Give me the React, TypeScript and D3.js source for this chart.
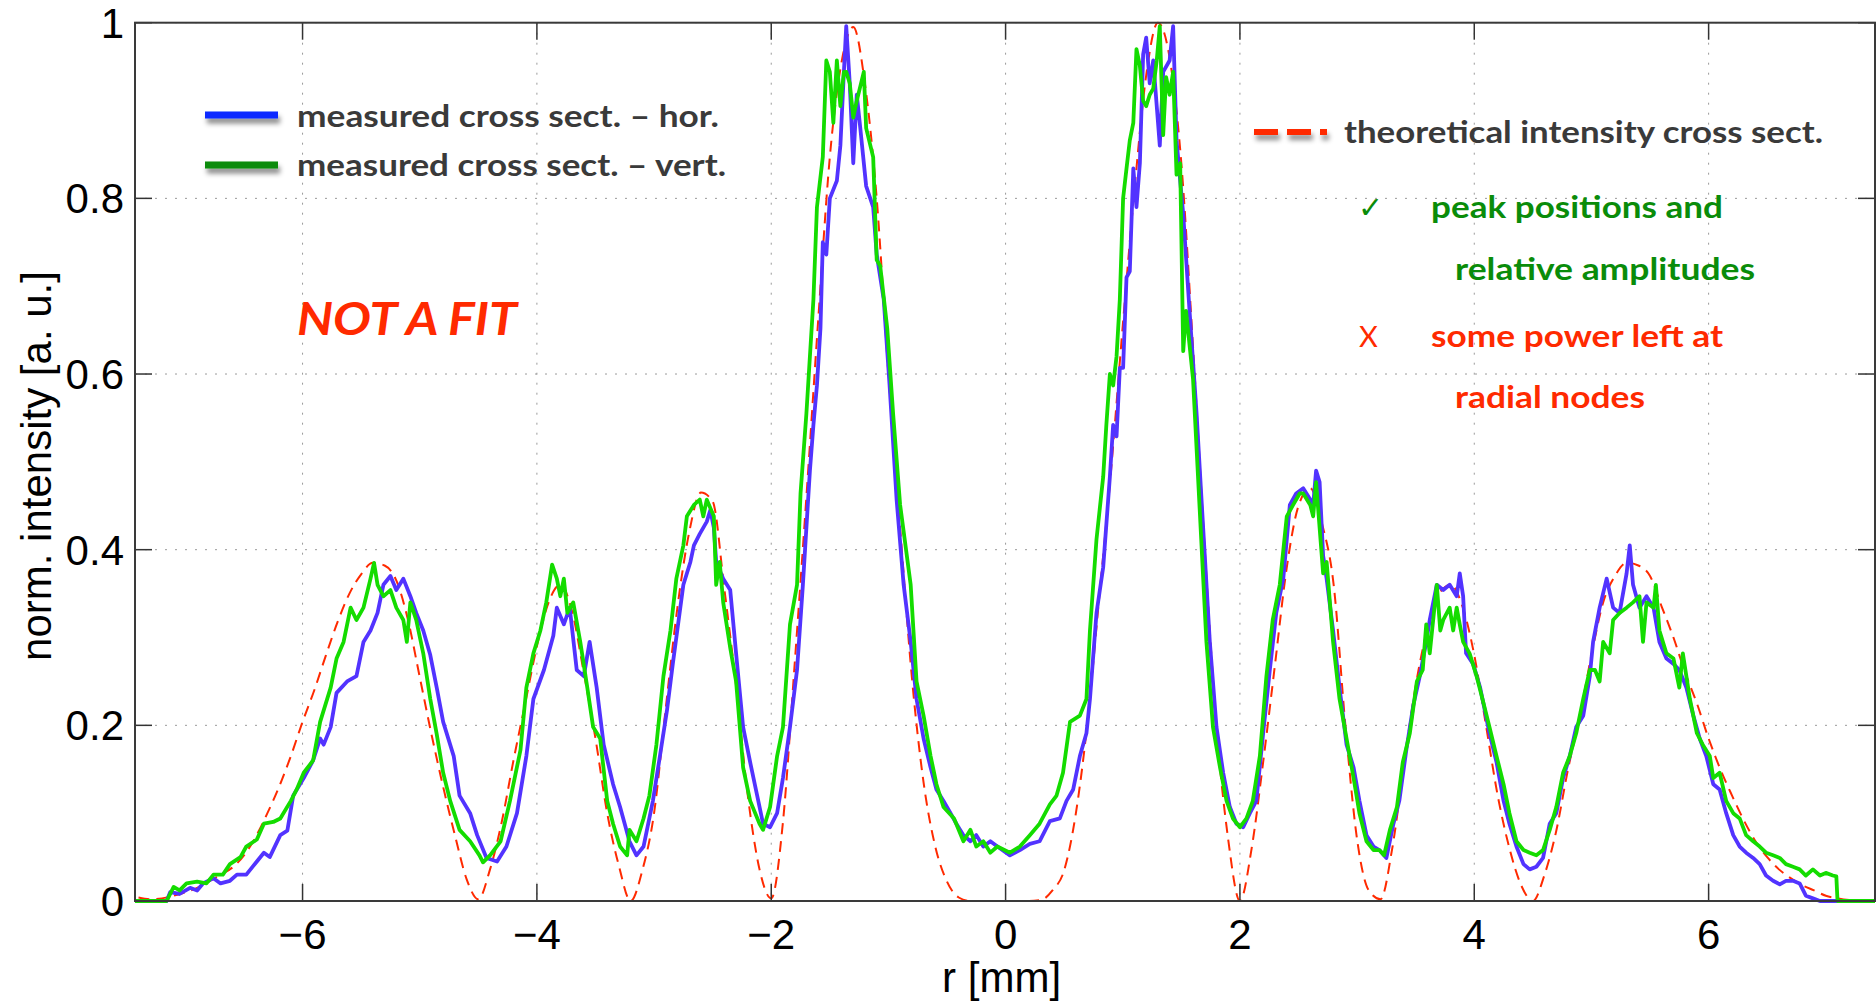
import React from 'react';
import * as d3 from 'd3';

const W = 1876;
const H = 1002;

const xTicks = [-6, -4, -2, 0, 2, 4, 6];
const xTickLabels = ['\u22126', '\u22124', '\u22122', '0', '2', '4', '6'];
const yTicks = [0, 0.2, 0.4, 0.6, 0.8, 1];
const yTickLabels = ['0', '0.2', '0.4', '0.6', '0.8', '1'];

// theoretical intensity cross section (red dashed)
const theoryR = [
  -7.4, -7.3, -7.2, -7.1, -7.0, -6.9, -6.8, -6.7, -6.6, -6.5, -6.4, -6.3, -6.2, -6.1, -6.0,
  -5.9, -5.8, -5.7, -5.6, -5.5, -5.4, -5.3, -5.2, -5.1, -5.0, -4.9, -4.8, -4.7, -4.6, -4.5,
  -4.4, -4.3, -4.2, -4.1, -4.0, -3.9, -3.8, -3.7, -3.6, -3.5, -3.4, -3.3, -3.2, -3.1, -3.0,
  -2.9, -2.8, -2.7, -2.6, -2.5, -2.4, -2.3, -2.2, -2.1, -2.0, -1.9, -1.8, -1.7, -1.6, -1.5,
  -1.4, -1.3, -1.2, -1.1, -1.0, -0.9, -0.8, -0.7, -0.6, -0.5, -0.4, -0.3, -0.2, -0.1, 0,
  0.1, 0.2, 0.3, 0.4, 0.5, 0.6, 0.7, 0.8, 0.9, 1.0, 1.1, 1.2, 1.3, 1.4, 1.5,
  1.6, 1.7, 1.8, 1.9, 2.0, 2.1, 2.2, 2.3, 2.4, 2.5, 2.6, 2.7, 2.8, 2.9, 3.0,
  3.1, 3.2, 3.3, 3.4, 3.5, 3.6, 3.7, 3.8, 3.9, 4.0, 4.1, 4.2, 4.3, 4.4, 4.5,
  4.6, 4.7, 4.8, 4.9, 5.0, 5.1, 5.2, 5.3, 5.4, 5.5, 5.6, 5.7, 5.8, 5.9, 6.0,
  6.1, 6.2, 6.3, 6.4, 6.5, 6.6, 6.7, 6.8, 6.9, 7.0, 7.1, 7.2, 7.3, 7.4,
];
const theoryI = [
  0.004, 0.002, 0.003, 0.006, 0.01, 0.015, 0.022, 0.03, 0.038, 0.052, 0.073, 0.1, 0.13, 0.165, 0.204,
  0.24, 0.28, 0.318, 0.35, 0.372, 0.385, 0.382, 0.365, 0.32, 0.255, 0.19, 0.13, 0.075, 0.025, 0.002,
  0.036, 0.09, 0.16, 0.225, 0.29, 0.34, 0.36, 0.33, 0.26, 0.185, 0.1, 0.04, 0.0, 0.035, 0.1,
  0.22, 0.335, 0.42, 0.465, 0.455, 0.355, 0.245, 0.12, 0.036, 0.003, 0.09, 0.27, 0.46, 0.66, 0.847,
  0.955, 0.995, 0.93, 0.8, 0.6, 0.425, 0.255, 0.135, 0.062, 0.022, 0.004, 0, 0, 0, 0,
  0, 0, 0.001, 0.012, 0.035, 0.1, 0.205, 0.347, 0.49, 0.655, 0.81, 0.94, 1.0, 0.96, 0.84,
  0.63, 0.4, 0.198, 0.07, 0.0, 0.06, 0.16, 0.27, 0.38, 0.45, 0.47, 0.43, 0.36, 0.2, 0.07,
  0.012, 0.002, 0.06, 0.155, 0.245, 0.31, 0.35, 0.36, 0.335, 0.28, 0.2, 0.12, 0.06, 0.018, 0.0,
  0.03, 0.08, 0.15, 0.21, 0.28, 0.34, 0.37, 0.385, 0.382, 0.37, 0.335, 0.3, 0.26, 0.225, 0.185,
  0.15, 0.12, 0.092, 0.068, 0.05, 0.036, 0.026, 0.018, 0.012, 0.006, 0.003, 0.001, 0, 0,
];

// measured cross section - horizontal (blue)
const horR = [
  -7.43, -7.16, -7.13, -7.05, -6.96, -6.9, -6.85, -6.76, -6.7, -6.62, -6.56, -6.48, -6.39, -6.33, -6.28,
  -6.19, -6.13, -6.08, -5.99, -5.91, -5.85, -5.82, -5.76, -5.71, -5.62, -5.54, -5.48, -5.42, -5.36, -5.31,
  -5.25, -5.2, -5.14, -5.08, -5.03, -4.97, -4.91, -4.855, -4.8, -4.71, -4.66, -4.57, -4.51, -4.43, -4.34,
  -4.26, -4.17, -4.09, -4.03, -3.94, -3.86, -3.83, -3.77, -3.72, -3.66, -3.6, -3.55, -3.49, -3.43, -3.35,
  -3.29, -3.21, -3.15, -3.09, -3.01, -2.95, -2.89, -2.84, -2.75, -2.69, -2.66, -2.61, -2.55, -2.52, -2.49,
  -2.47, -2.41, -2.35, -2.3, -2.24, -2.18, -2.12, -2.07, -2.01, -1.95, -1.9, -1.84, -1.78, -1.73, -1.67,
  -1.64, -1.61, -1.58, -1.56, -1.53, -1.5, -1.44, -1.41, -1.38, -1.36, -1.33, -1.3, -1.27, -1.24, -1.19,
  -1.13, -1.1, -1.04, -0.99, -0.93, -0.87, -0.81, -0.76, -0.7, -0.64, -0.59, -0.53, -0.47, -0.42, -0.36,
  -0.3, -0.25, -0.19, -0.13, -0.07, 0.037, 0.122, 0.207, 0.29, 0.378, 0.463, 0.52, 0.577, 0.634, 0.69,
  0.72, 0.776, 0.833, 0.89, 0.918, 0.947, 0.975, 1.003, 1.032, 1.06, 1.09, 1.117, 1.146, 1.174, 1.2,
  1.23, 1.26, 1.316, 1.345, 1.4, 1.43, 1.459, 1.516, 1.57, 1.63, 1.686, 1.743, 1.8, 1.857, 1.914,
  1.97, 2.028, 2.085, 2.14, 2.198, 2.255, 2.31, 2.37, 2.426, 2.48, 2.54, 2.6, 2.625, 2.65, 2.68,
  2.71, 2.74, 2.795, 2.85, 2.91, 2.97, 3.02, 3.08, 3.14, 3.19, 3.25, 3.31, 3.36, 3.42, 3.48,
  3.535, 3.59, 3.62, 3.68, 3.735, 3.79, 3.85, 3.876, 3.905, 3.93, 3.99, 4.05, 4.13, 4.19, 4.25,
  4.3, 4.36, 4.42, 4.473, 4.53, 4.587, 4.644, 4.7, 4.758, 4.815, 4.87, 4.93, 4.986, 5.014, 5.07,
  5.13, 5.185, 5.24, 5.3, 5.327, 5.355, 5.41, 5.47, 5.53, 5.58, 5.64, 5.7, 5.75, 5.81, 5.87,
  5.924, 5.98, 6.04, 6.094, 6.15, 6.21, 6.265, 6.32, 6.38, 6.436, 6.49, 6.55, 6.607, 6.66, 6.72,
  6.777, 6.83, 6.89, 6.95, 7.42,
];
const horI = [
  0, 0, 0.01, 0.008, 0.015, 0.012, 0.02, 0.026, 0.02, 0.023, 0.03, 0.03, 0.045, 0.055, 0.05,
  0.075, 0.08, 0.12, 0.14, 0.16, 0.185, 0.178, 0.198, 0.237, 0.25, 0.256, 0.295, 0.308, 0.328, 0.36,
  0.37, 0.354, 0.367, 0.347, 0.328, 0.308, 0.28, 0.243, 0.204, 0.165, 0.12, 0.1, 0.075, 0.049, 0.045,
  0.062, 0.1, 0.165, 0.23, 0.263, 0.302, 0.334, 0.315, 0.334, 0.263, 0.256, 0.295, 0.243, 0.178, 0.133,
  0.107, 0.068, 0.052, 0.062, 0.114, 0.165, 0.217, 0.27, 0.36, 0.386, 0.405, 0.418, 0.432, 0.445, 0.425,
  0.386, 0.367, 0.354, 0.282, 0.198, 0.158, 0.12, 0.088, 0.084, 0.1, 0.14, 0.198, 0.263, 0.36, 0.49,
  0.542, 0.587, 0.652, 0.75, 0.736, 0.8, 0.82, 0.86, 0.944, 0.996, 0.931, 0.84, 0.918, 0.88, 0.814,
  0.79, 0.736, 0.685, 0.587, 0.457, 0.36, 0.295, 0.23, 0.185, 0.152, 0.127, 0.114, 0.1, 0.088, 0.075,
  0.068, 0.075, 0.062, 0.068, 0.062, 0.052, 0.058, 0.065, 0.068, 0.091, 0.094, 0.114, 0.127, 0.165, 0.191,
  0.23, 0.328, 0.38, 0.483, 0.542, 0.529, 0.607, 0.607, 0.71, 0.717, 0.834, 0.79, 0.84, 0.964, 0.983,
  0.931, 0.957, 0.86, 0.944, 0.957, 0.996, 0.866, 0.782, 0.672, 0.555, 0.425, 0.295, 0.198, 0.146, 0.107,
  0.088, 0.084, 0.1, 0.114, 0.191, 0.263, 0.328, 0.367, 0.451, 0.464, 0.47, 0.457, 0.451, 0.49, 0.477,
  0.393, 0.367, 0.308, 0.243, 0.178, 0.152, 0.114, 0.075, 0.062, 0.058, 0.049, 0.088, 0.114, 0.172, 0.223,
  0.256, 0.295, 0.32, 0.36, 0.354, 0.36, 0.347, 0.373, 0.347, 0.282, 0.27, 0.243, 0.191, 0.158, 0.114,
  0.088, 0.062, 0.042, 0.036, 0.039, 0.049, 0.088, 0.1, 0.14, 0.165, 0.198, 0.211, 0.256, 0.295, 0.334,
  0.367, 0.334, 0.328, 0.373, 0.405, 0.36, 0.334, 0.347, 0.334, 0.295, 0.276, 0.27, 0.263, 0.243, 0.211,
  0.185, 0.165, 0.133, 0.127, 0.1, 0.075, 0.062, 0.055, 0.049, 0.042, 0.029, 0.023, 0.019, 0.023, 0.023,
  0.02, 0.006, 0.003, 0, 0,
];

// measured cross section - vertical (green)
const vertR = [
  -7.43, -7.16, -7.1, -7.05, -6.99, -6.9, -6.82, -6.76, -6.68, -6.62, -6.53, -6.48, -6.39, -6.33, -6.25,
  -6.19, -6.1, -6.05, -5.99, -5.91, -5.85, -5.76, -5.71, -5.65, -5.59, -5.54, -5.48, -5.42, -5.39, -5.36,
  -5.31, -5.25, -5.2, -5.14, -5.11, -5.08, -5.03, -4.97, -4.91, -4.855, -4.8, -4.74, -4.66, -4.57, -4.49,
  -4.46, -4.4, -4.31, -4.23, -4.14, -4.09, -4.03, -3.97, -3.92, -3.87, -3.83, -3.8, -3.77, -3.74, -3.69,
  -3.63, -3.57, -3.52, -3.46, -3.4, -3.35, -3.29, -3.23, -3.21, -3.15, -3.09, -3.04, -2.98, -2.92, -2.86,
  -2.81, -2.75, -2.72, -2.66, -2.61, -2.58, -2.55, -2.49, -2.47, -2.44, -2.41, -2.35, -2.3, -2.24, -2.18,
  -2.1, -2.07, -2.01, -1.95, -1.9, -1.84, -1.78, -1.75, -1.7, -1.67, -1.64, -1.61, -1.56, -1.53, -1.5,
  -1.47, -1.44, -1.41, -1.38, -1.36, -1.33, -1.3, -1.27, -1.21, -1.19, -1.13, -1.1, -1.07, -1.01, -0.96,
  -0.9, -0.81, -0.76, -0.7, -0.64, -0.59, -0.53, -0.44, -0.36, -0.3, -0.25, -0.19, -0.13, -0.07, 0.037,
  0.122, 0.207, 0.29, 0.378, 0.435, 0.49, 0.55, 0.634, 0.69, 0.72, 0.776, 0.833, 0.86, 0.89, 0.918,
  0.947, 0.975, 1.003, 1.032, 1.06, 1.09, 1.117, 1.146, 1.174, 1.2, 1.23, 1.26, 1.29, 1.316, 1.345,
  1.37, 1.4, 1.43, 1.459, 1.49, 1.516, 1.54, 1.6, 1.657, 1.714, 1.77, 1.83, 1.886, 1.94, 2.0,
  2.056, 2.11, 2.17, 2.226, 2.28, 2.34, 2.4, 2.454, 2.51, 2.54, 2.6, 2.625, 2.65, 2.71, 2.74,
  2.795, 2.85, 2.91, 2.97, 3.02, 3.08, 3.14, 3.19, 3.23, 3.28, 3.34, 3.39, 3.45, 3.51, 3.56,
  3.59, 3.62, 3.68, 3.71, 3.735, 3.79, 3.82, 3.85, 3.876, 3.905, 3.96, 4.02, 4.07, 4.13, 4.19,
  4.25, 4.3, 4.36, 4.42, 4.473, 4.53, 4.587, 4.644, 4.7, 4.758, 4.815, 4.87, 4.93, 4.986, 5.03,
  5.07, 5.1, 5.156, 5.185, 5.24, 5.3, 5.355, 5.41, 5.44, 5.47, 5.53, 5.55, 5.58, 5.64, 5.7,
  5.75, 5.78, 5.84, 5.9, 5.95, 6.01, 6.04, 6.094, 6.15, 6.21, 6.265, 6.32, 6.38, 6.436, 6.49,
  6.55, 6.607, 6.66, 6.72, 6.777, 6.83, 6.89, 6.95, 7.0, 7.06, 7.09, 7.1, 7.42,
];
const vertI = [
  0, 0, 0.016, 0.012, 0.02, 0.022, 0.02, 0.03, 0.03, 0.042, 0.05, 0.062, 0.07, 0.088, 0.09,
  0.094, 0.114, 0.127, 0.146, 0.16, 0.204, 0.243, 0.276, 0.295, 0.334, 0.32, 0.334, 0.367, 0.385, 0.36,
  0.347, 0.354, 0.334, 0.32, 0.295, 0.34, 0.32, 0.282, 0.23, 0.19, 0.146, 0.114, 0.081, 0.068, 0.052,
  0.044, 0.052, 0.068, 0.114, 0.172, 0.243, 0.282, 0.308, 0.34, 0.383, 0.367, 0.347, 0.367, 0.328, 0.34,
  0.295, 0.243, 0.198, 0.185, 0.114, 0.088, 0.062, 0.052, 0.081, 0.068, 0.094, 0.12, 0.178, 0.256, 0.308,
  0.367, 0.405, 0.438, 0.451, 0.457, 0.438, 0.457, 0.438, 0.36, 0.386, 0.34, 0.288, 0.25, 0.152, 0.114,
  0.088, 0.081, 0.107, 0.165, 0.198, 0.315, 0.36, 0.464, 0.555, 0.62, 0.685, 0.79, 0.847, 0.957, 0.944,
  0.886, 0.957, 0.905, 0.944, 0.944, 0.931, 0.892, 0.911, 0.944, 0.88, 0.847, 0.73, 0.723, 0.652, 0.555,
  0.451, 0.36, 0.25, 0.211, 0.165, 0.133, 0.107, 0.094, 0.068, 0.081, 0.062, 0.068, 0.055, 0.062, 0.055,
  0.062, 0.075, 0.088, 0.11, 0.12, 0.146, 0.204, 0.211, 0.23, 0.308, 0.412, 0.483, 0.542, 0.6, 0.587,
  0.62, 0.685, 0.8, 0.834, 0.866, 0.886, 0.97, 0.951, 0.911, 0.905, 0.918, 0.925, 0.957, 0.996, 0.872,
  0.938, 0.918, 0.944, 0.827, 0.84, 0.626, 0.672, 0.594, 0.445, 0.295, 0.198, 0.152, 0.114, 0.094, 0.084,
  0.094, 0.114, 0.165, 0.256, 0.32, 0.36, 0.438, 0.451, 0.464, 0.464, 0.451, 0.438, 0.477, 0.373, 0.386,
  0.295, 0.23, 0.185, 0.14, 0.1, 0.068, 0.058, 0.058, 0.052, 0.081, 0.107, 0.158, 0.191, 0.25, 0.263,
  0.315, 0.282, 0.36, 0.308, 0.32, 0.334, 0.308, 0.334, 0.315, 0.295, 0.282, 0.256, 0.23, 0.198, 0.165,
  0.133, 0.1, 0.068, 0.058, 0.055, 0.052, 0.058, 0.081, 0.107, 0.146, 0.165, 0.191, 0.23, 0.263, 0.263,
  0.25, 0.295, 0.282, 0.32, 0.328, 0.334, 0.34, 0.347, 0.295, 0.34, 0.334, 0.36, 0.308, 0.282, 0.276,
  0.243, 0.282, 0.23, 0.191, 0.178, 0.165, 0.14, 0.146, 0.114, 0.1, 0.094, 0.075, 0.068, 0.062, 0.055,
  0.052, 0.049, 0.042, 0.039, 0.036, 0.029, 0.036, 0.029, 0.032, 0.029, 0.028, 0, 0,
];

const zip = (rs: number[], vs: number[]) => rs.map((r, i) => [r, vs[i]] as [number, number]);

export default function App() {
  const left = 135, right = 1875, top = 22.7, bottom = 901;
  const x = d3.scaleLinear().domain([-7.43, 7.42]).range([left, right]);
  const y = d3.scaleLinear().domain([0, 1]).range([bottom, top]);

  const lineLin = d3.line<[number, number]>().x(d => x(d[0])).y(d => y(d[1])).curve(d3.curveLinear);
  const lineSmooth = d3.line<[number, number]>().x(d => x(d[0])).y(d => y(d[1])).curve(d3.curveMonotoneX);

  const theoryPath = lineSmooth(zip(theoryR, theoryI)) || '';
  const horPath = lineLin(zip(horR, horI)) || '';
  const vertPath = lineLin(zip(vertR, vertI)) || '';

  const tickLen = 17;
  const axisFont = '"Liberation Sans", Arial, Helvetica, sans-serif';
  const noteFont = 'Lato, "Open Sans", sans-serif';

  return (
    <svg width={W} height={H} viewBox={`0 0 ${W} ${H}`}
      style={{ position: 'absolute', left: 0, top: 0, background: '#fff' }}>
      <defs>
        <clipPath id="plotClip">
          <rect x={left} y={top - 4} width={right - left} height={bottom - top + 8} />
        </clipPath>
        <filter id="shadow" x="-20%" y="-100%" width="140%" height="400%">
          <feDropShadow dx="2" dy="5" stdDeviation="2.5" floodColor="#000" floodOpacity="0.45" />
        </filter>
      </defs>
      <rect x={0} y={0} width={W} height={H} fill="#fff" />

      {/* grid */}
      <g stroke="#9a9a9a" strokeWidth={1} strokeDasharray="2,8">
        {xTicks.map(t => (
          <line key={'gx' + t} x1={x(t)} x2={x(t)} y1={top} y2={bottom} />
        ))}
        {yTicks.map(t => (
          <line key={'gy' + t} x1={left} x2={right} y1={y(t)} y2={y(t)} />
        ))}
      </g>

      {/* curves */}
      <g clipPath="url(#plotClip)" fill="none">
        <path d={theoryPath} stroke="#ff2a00" strokeWidth={2} strokeDasharray="11,7" />
        <path d={horPath} stroke="#5233ff" strokeWidth={3.8} strokeLinejoin="round" strokeLinecap="round" />
        <path d={vertPath} stroke="#14dc00" strokeWidth={3.8} strokeLinejoin="round" strokeLinecap="round" />
      </g>

      {/* frame and ticks */}
      <g stroke="#333" strokeWidth={1.5}>
        {xTicks.map(t => (
          <g key={'tx' + t}>
            <line x1={x(t)} x2={x(t)} y1={bottom} y2={bottom - tickLen} />
            <line x1={x(t)} x2={x(t)} y1={top} y2={top + tickLen} />
          </g>
        ))}
        {yTicks.map(t => (
          <g key={'ty' + t}>
            <line x1={left} x2={left + tickLen} y1={y(t)} y2={y(t)} />
            <line x1={right} x2={right - tickLen} y1={y(t)} y2={y(t)} />
          </g>
        ))}
      </g>
      <rect x={left} y={top} width={right - left} height={bottom - top} fill="none" stroke="#3a3a3a" strokeWidth={2} />

      {/* tick labels */}
      <g fontFamily={axisFont} fontSize={42} fill="#000">
        {xTicks.map((t, i) => (
          <text key={'lx' + t} x={x(t)} y={949} textAnchor="middle">{xTickLabels[i]}</text>
        ))}
        {yTicks.map((t, i) => (
          <text key={'ly' + t} x={124} y={y(t) + 15} textAnchor="end">{yTickLabels[i]}</text>
        ))}
        <text x={x(0) - 4} y={992} textAnchor="middle">r [mm]</text>
        <text transform={`translate(51, 466) rotate(-90)`} textAnchor="middle">norm. intensity [a. u.]</text>
      </g>

      {/* legend */}
      <g filter="url(#shadow)">
        <line x1={205} x2={278} y1={115} y2={115} stroke="#0a2aff" strokeWidth={7} />
        <line x1={205} x2={278} y1={165} y2={165} stroke="#0a8c0a" strokeWidth={7} />
        <line x1={1254} x2={1327} y1={132} y2={132} stroke="#ff2a00" strokeWidth={6} strokeDasharray="24,9" />
      </g>
      <g fontFamily={noteFont} fontWeight={700} fontSize={31} fill="#3a3a3a">
        <text x={297} y={127} textLength={422} lengthAdjust="spacingAndGlyphs">measured cross sect. – hor.</text>
        <text x={297} y={176} textLength={429} lengthAdjust="spacingAndGlyphs">measured cross sect. – vert.</text>
        <text x={1344} y={143} textLength={479} lengthAdjust="spacingAndGlyphs">theoretical intensity cross sect.</text>
      </g>
      <g fontFamily={noteFont} fontWeight={700} fontSize={31}>
        <text x={1431} y={218} fill="#0a8c0a" textLength={292} lengthAdjust="spacingAndGlyphs">peak positions and</text>
        <text x={1455} y={280} fill="#0a8c0a" textLength={300} lengthAdjust="spacingAndGlyphs">relative amplitudes</text>
        <text x={1431} y={347} fill="#ff2a00" textLength={292} lengthAdjust="spacingAndGlyphs">some power left at</text>
        <text x={1455} y={408} fill="#ff2a00" textLength={190} lengthAdjust="spacingAndGlyphs">radial nodes</text>
      </g>
      <text x={1358} y={218} fontFamily={'"DejaVu Sans", sans-serif'} fontSize={30} fill="#0a8c0a">✓</text>
      <text x={1359} y={347} fontFamily={noteFont} fontSize={29} fill="#ff2a00">X</text>
      <text x={297} y={335} fontFamily={noteFont} fontWeight={700} fontStyle="italic" fontSize={45}
        fill="#ff2a00" textLength={220} lengthAdjust="spacingAndGlyphs">NOT A FIT</text>
    </svg>
  );
}
